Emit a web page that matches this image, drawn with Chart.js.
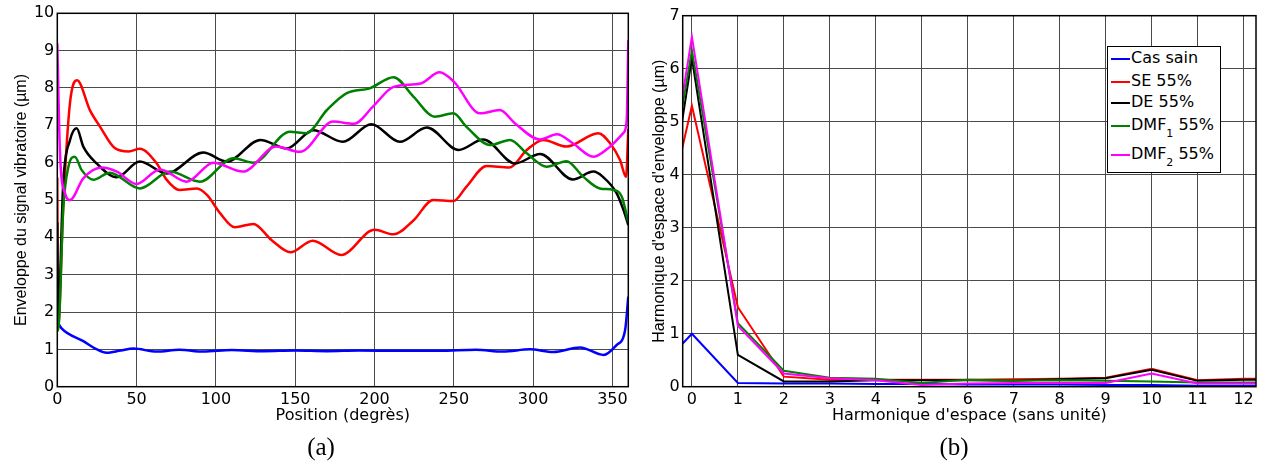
<!DOCTYPE html>
<html><head><meta charset="utf-8">
<script src="https://cdn.jsdelivr.net/npm/chart.js@4.4.0/dist/chart.umd.min.js"></script>
<style>
html,body{margin:0;padding:0;background:#fff;}
body{width:1268px;height:464px;overflow:hidden;position:relative;}
#ca{position:absolute;left:0;top:0;}
#cb{position:absolute;left:634px;top:0;}
.cap{position:absolute;top:432px;width:60px;text-align:center;font-family:"Liberation Serif","Times New Roman",serif;font-size:25px;line-height:30px;color:#000;}
#legend{position:absolute;left:1107px;top:46px;width:114px;height:127px;box-sizing:border-box;border:1px solid #000;background:#fff;}
.lg{position:absolute;left:1111px;height:22px;line-height:22px;font-family:"DejaVu Sans",sans-serif;font-size:16px;color:#000;white-space:nowrap;}
.lg i{display:inline-block;width:19px;height:2px;vertical-align:middle;margin-right:1px;}
.lg sub{font-size:11px;vertical-align:-7px;line-height:0;}
</style></head>
<body>
<canvas id="ca" width="634" height="464"></canvas>
<canvas id="cb" width="634" height="464"></canvas>
<div class="cap" style="left:291px">(a)</div>
<div class="cap" style="left:924px">(b)</div>
<div id="legend"></div>
<div class="lg" style="top:47px"><i style="background:#0000ff"></i>Cas sain</div>
<div class="lg" style="top:70px"><i style="background:#ff0000"></i>SE 55%</div>
<div class="lg" style="top:91px"><i style="background:#000000"></i>DE 55%</div>
<div class="lg" style="top:114px"><i style="background:#008000"></i>DMF<sub>1</sub> 55%</div>
<div class="lg" style="top:143px"><i style="background:#ff00ff"></i>DMF<sub>2</sub> 55%</div>
<script>
// ---------- (a) envelope vs position ----------
const posTicks = [0, 50, 100, 150, 200, 250, 300, 350];
const envTicks = [0, 1, 2, 3, 4, 5, 6, 7, 8, 9, 10];

const casSainPos = [0, 2.7, 16.4, 25, 31, 40, 48, 62.7, 77, 92, 110, 130, 150, 170, 190, 216, 241, 264, 281, 298, 312.7, 329.5, 344.5, 352.7, 358, 360];
const casSainVal = [1.74, 1.56, 1.22, 1.0, 0.91, 0.97, 1.02, 0.94, 0.99, 0.94, 0.98, 0.95, 0.97, 0.95, 0.97, 0.96, 0.96, 0.99, 0.94, 1.0, 0.93, 1.05, 0.85, 1.12, 1.52, 2.41];

const sePos = [0, 0.4, 3.8, 8, 12.5, 20.6, 27, 36, 45, 52, 62.7, 69, 77, 88, 94.5, 102.6, 112, 123.6, 135, 147, 161, 179, 200, 212, 224.5, 237, 249.7, 258, 270.7, 285, 296, 306.4, 321, 341, 348.5, 354.8, 358.6, 360];
const seVal = [5.6, 1.52, 4.9, 7.6, 8.21, 7.4, 6.96, 6.4, 6.3, 6.37, 5.98, 5.54, 5.27, 5.31, 5.13, 4.65, 4.27, 4.36, 3.93, 3.6, 3.91, 3.53, 4.2, 4.08, 4.45, 5.0, 4.97, 5.36, 5.91, 5.87, 6.34, 6.61, 6.43, 6.79, 6.52, 6.07, 5.62, 6.9];

const dePos = [0, 0.4, 3.8, 8, 12.2, 16.4, 24.8, 37.5, 52, 69, 92, 107, 128, 144.6, 161.4, 180, 198, 216, 233, 253, 268.6, 288.6, 304.4, 325, 338, 344, 352.7, 357, 360];
const deVal = [4.4, 1.7, 5.5, 6.6, 6.92, 6.43, 5.98, 5.61, 6.03, 5.71, 6.27, 6.03, 6.61, 6.38, 6.87, 6.56, 7.03, 6.56, 6.94, 6.34, 6.62, 5.98, 6.23, 5.55, 5.76, 5.62, 5.18, 4.73, 4.33];

const dmf1Pos = [0, 0.5, 3.8, 7, 11, 15.4, 22.7, 33, 52, 71, 90, 111, 123.6, 146.7, 157, 170, 182.5, 197, 212, 224.5, 238, 249.7, 258, 272.8, 285.4, 296, 308.6, 321, 331.7, 342, 350.6, 355.9, 360];
const dmf1Val = [1.5, 1.5, 4.8, 5.89, 6.16, 5.8, 5.54, 5.73, 5.31, 5.76, 5.49, 6.12, 6.0, 6.83, 6.79, 7.41, 7.86, 7.99, 8.29, 7.77, 7.23, 7.32, 6.96, 6.47, 6.61, 6.25, 5.89, 6.04, 5.62, 5.31, 5.27, 5.09, 4.4];

const dmf2Pos = [0, 1.7, 4.9, 8, 16.4, 28, 37.5, 50, 64.7, 81.6, 98.4, 117, 138, 153, 174, 187, 199, 212, 229, 241, 250, 266.5, 279, 288.6, 304.4, 315, 325, 338, 348.5, 357, 359, 360];
const dmf2Val = [9.2, 6.25, 5.18, 5.0, 5.58, 5.87, 5.76, 5.43, 5.82, 5.49, 6.0, 5.76, 6.43, 6.29, 7.1, 7.04, 7.5, 8.03, 8.12, 8.42, 8.17, 7.32, 7.41, 7.05, 6.62, 6.76, 6.52, 6.16, 6.43, 6.8, 7.14, 9.28];

// ---------- (b) spatial harmonics ----------
const harmTicks = [0, 1, 2, 3, 4, 5, 6, 7, 8, 9, 10, 11, 12];
const harmAmpTicks = [0, 1, 2, 3, 4, 5, 6, 7];
const harmonics = [-1, 0, 1, 2, 3, 4, 5, 6, 7, 8, 9, 10, 11, 12, 13];
const casSainH = [0.07, 1.0, 0.07, 0.06, 0.06, 0.05, 0.05, 0.04, 0.04, 0.04, 0.03, 0.03, 0.02, 0.02, 0.02];
const seH      = [1.5, 5.3, 1.5, 0.19, 0.13, 0.13, 0.13, 0.13, 0.14, 0.15, 0.17, 0.34, 0.12, 0.15, 0.15];
const deH      = [0.6, 6.2, 0.6, 0.1, 0.1, 0.12, 0.12, 0.12, 0.11, 0.14, 0.16, 0.32, 0.11, 0.13, 0.13];
const dmf1H    = [1.2, 6.35, 1.2, 0.3, 0.17, 0.15, 0.07, 0.13, 0.11, 0.12, 0.11, 0.1, 0.08, 0.08, 0.08];
const dmf2H    = [1.15, 6.6, 1.15, 0.25, 0.16, 0.12, 0.03, 0.06, 0.07, 0.07, 0.07, 0.25, 0.06, 0.06, 0.06];

const COLORS = {cas:'#0000ff', se:'#ff0000', de:'#000000', dmf1:'#008000', dmf2:'#ff00ff'};
const GRID = '#4a4a4a';
const HFONT = {family:'"DejaVu Sans", sans-serif', size:16};
const VFONT = {family:'"Liberation Sans", Arial, sans-serif', size:16};

const frame = {id:'frame', afterDraw(c){
  const {ctx, chartArea:a} = c;
  ctx.save(); ctx.strokeStyle='#000'; ctx.lineWidth=1.5;
  ctx.strokeRect(a.left, a.top, a.right-a.left, a.bottom-a.top);
  ctx.restore();
}};

function xy(xs, ys){ return xs.map((x,i)=>({x:x, y:ys[i]})); }
function ds(label, data, color, order, width, mode){
  return {label, data, borderColor:color, backgroundColor:color, borderWidth:width, pointRadius:0,
          cubicInterpolationMode:mode, tension: mode==='monotone'?0.4:0, order, fill:false};
}

Chart.defaults.color = '#000';
Chart.defaults.animation = false;

new Chart(document.getElementById('ca'), {
  type:'line',
  data:{datasets:[
    ds('Cas sain', xy(casSainPos, casSainVal), COLORS.cas, 5, 2.5, 'monotone'),
    ds('SE 55%', xy(sePos, seVal), COLORS.se, 4, 2.5, 'monotone'),
    ds('DE 55%', xy(dePos, deVal), COLORS.de, 3, 2.5, 'monotone'),
    ds('DMF1 55%', xy(dmf1Pos, dmf1Val), COLORS.dmf1, 2, 2.5, 'monotone'),
    ds('DMF2 55%', xy(dmf2Pos, dmf2Val), COLORS.dmf2, 1, 2.5, 'monotone')
  ]},
  options:{
    responsive:false, devicePixelRatio:1, animation:false,
    layout:{padding:{left:0, top:13.3, right:5.7, bottom:0}},
    plugins:{legend:{display:false}, tooltip:{enabled:false}},
    scales:{
      x:{type:'linear', min:0, max:360,
        afterBuildTicks:s=>{ s.ticks = posTicks.map(v=>({value:v})); },
        afterFit:s=>{ s.height = 77.3; },
        grid:{color:GRID, lineWidth:1, drawTicks:false},
        border:{display:false},
        ticks:{font:HFONT, color:'#000', padding:4, maxRotation:0, autoSkip:false},
        title:{display:true, text:'Position (degrès)', font:HFONT, color:'#000', padding:{top:0, bottom:38.4}}
      },
      y:{type:'linear', min:0, max:10,
        afterBuildTicks:s=>{ s.ticks = envTicks.map(v=>({value:v})); },
        afterFit:s=>{ s.width = 57.3; },
        grid:{color:GRID, lineWidth:1, drawTicks:false},
        border:{display:false},
        ticks:{font:HFONT, color:'#000', padding:3, autoSkip:false},
        title:{display:true, text:'Enveloppe du signal vibratoire (µm)', font:VFONT, color:'#000', padding:{top:11.6, bottom:0}}
      }
    }
  },
  plugins:[frame]
});

new Chart(document.getElementById('cb'), {
  type:'line',
  data:{datasets:[
    ds('Cas sain', xy(harmonics, casSainH), COLORS.cas, 5, 2, 'default'),
    ds('SE 55%', xy(harmonics, seH), COLORS.se, 4, 2, 'default'),
    ds('DE 55%', xy(harmonics, deH), COLORS.de, 3, 2, 'default'),
    ds('DMF1 55%', xy(harmonics, dmf1H), COLORS.dmf1, 2, 2, 'default'),
    ds('DMF2 55%', xy(harmonics, dmf2H), COLORS.dmf2, 1, 2, 'default')
  ]},
  options:{
    responsive:false, devicePixelRatio:1, animation:false,
    layout:{padding:{left:0, top:15.7, right:12, bottom:0}},
    plugins:{legend:{display:false}, tooltip:{enabled:false}},
    scales:{
      x:{type:'linear', min:-0.2, max:12.27,
        afterBuildTicks:s=>{ s.ticks = harmTicks.map(v=>({value:v})); },
        afterFit:s=>{ s.height = 77.3; },
        grid:{color:GRID, lineWidth:1, drawTicks:false},
        border:{display:false},
        ticks:{font:HFONT, color:'#000', padding:4, maxRotation:0, autoSkip:false},
        title:{display:true, text:"Harmonique d'espace (sans unité)", font:HFONT, color:'#000', padding:{top:0, bottom:38.4}}
      },
      y:{type:'linear', min:0, max:7,
        afterBuildTicks:s=>{ s.ticks = harmAmpTicks.map(v=>({value:v})); },
        afterFit:s=>{ s.width = 48.7; },
        grid:{color:GRID, lineWidth:1, drawTicks:false},
        border:{display:false},
        ticks:{font:HFONT, color:'#000', padding:3, autoSkip:false},
        title:{display:true, text:"Harmonique d'espace d'enveloppe (µm)", font:VFONT, color:'#000', padding:{top:15.5, bottom:0}}
      }
    }
  },
  plugins:[frame]
});
</script>
</body></html>
